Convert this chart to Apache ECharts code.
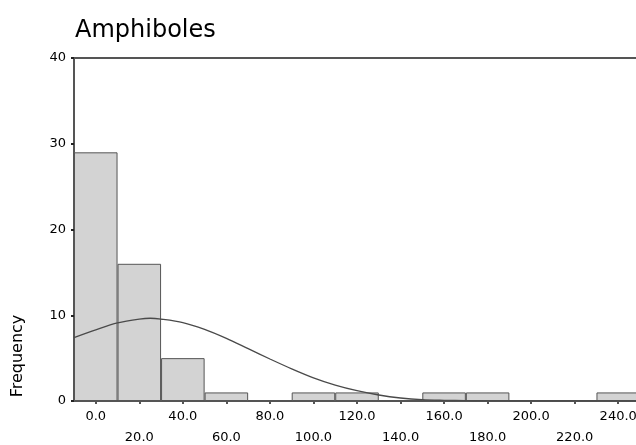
<!DOCTYPE html>
<html>
<head>
<meta charset="utf-8">
<script src="https://cdn.jsdelivr.net/npm/echarts@6/dist/echarts.min.js"></script>
<style>html,body{margin:0;padding:0;background:#fff;}#c{width:636px;height:445px;}</style>
</head>
<body>
<div id="c"></div>
<script>
// Histogram bins (centres) and frequencies
var categories = ['0.0','20.0','40.0','60.0','80.0','100.0','120.0','140.0','160.0','180.0','200.0','220.0','240.0'];
var frequencies = [29, 16, 5, 1, 0, 1, 1, 0, 1, 1, 0, 0, 1];
// Normal curve: x positions and heights
var curveX = [-10, 0, 10, 20, 25, 30, 40, 50, 60, 70, 80, 90, 100, 110, 120, 130, 140, 150, 160, 170, 180, 200, 220, 250];
var curveY = [7.4, 8.3, 9.1, 9.55, 9.65, 9.55, 9.15, 8.35, 7.3, 6.1, 4.9, 3.75, 2.7, 1.85, 1.2, 0.7, 0.35, 0.15, 0.08, 0.04, 0.02, 0.01, 0.005, 0.002];
var yTicks = [0, 10, 20, 30, 40];

var FONT = 'DejaVu Sans';
var chart = echarts.init(document.getElementById('c'), null, {renderer: 'canvas'});
var curveData = curveX.map(function (x, i) { return [x, curveY[i]]; });

chart.setOption({
  animation: false,
  backgroundColor: '#ffffff',
  title: {
    text: 'Amphiboles',
    left: 70, top: 14,
    textStyle: {fontFamily: FONT, fontSize: 24, fontWeight: 'normal', color: '#000', lineHeight: 24}
  },
  grid: {left: 74, top: 58, width: 566, bottom: 44, containLabel: false, outerBoundsMode: 'none'},
  xAxis: [
    {
      type: 'category',
      data: categories,
      position: 'bottom',
      boundaryGap: true,
      axisLine: {show: true, onZero: false, lineStyle: {color: '#555', width: 2}},
      axisTick: {show: true, alignWithLabel: true, length: 3, lineStyle: {color: '#555', width: 2}},
      axisLabel: {
        interval: 0,
        margin: 5,
        color: '#000',
        fontFamily: FONT,
        fontSize: 13,
        lineHeight: 21,
        hideOverlap: false,
        formatter: function (v, i) { return i % 2 === 1 ? '\n' + v : v; }
      },
      splitLine: {show: false}
    },
    {
      type: 'value',
      position: 'top',
      min: -10, max: 250,
      axisLine: {show: true, onZero: false, lineStyle: {color: '#555', width: 2}},
      axisTick: {show: false},
      axisLabel: {show: false},
      splitLine: {show: false}
    }
  ],
  yAxis: {
    type: 'value',
    min: yTicks[0], max: yTicks[yTicks.length - 1], interval: 10,
    axisLine: {show: true, onZero: false, lineStyle: {color: '#555', width: 2}},
    axisTick: {show: true, length: 3, lineStyle: {color: '#222', width: 2}},
    axisLabel: {color: '#000', fontFamily: FONT, fontSize: 13, margin: 8},
    splitLine: {show: false}
  },
  graphic: [{
    type: 'text',
    x: 18, y: 356,
    rotation: Math.PI / 2,
    style: {
      text: 'Frequency',
      fill: '#000',
      font: '16px "DejaVu Sans"',
      textAlign: 'center',
      textVerticalAlign: 'middle'
    }
  }],
  series: [
    {
      type: 'bar',
      xAxisIndex: 0,
      data: frequencies,
      barWidth: '100%',
      barCategoryGap: '0%',
      itemStyle: {color: '#d3d3d3', borderColor: '#555', borderWidth: 1},
      silent: true
    },
    {
      type: 'line',
      xAxisIndex: 1,
      data: curveData,
      smooth: 0.3,
      showSymbol: false,
      lineStyle: {color: '#4a4a4a', width: 1.3},
      silent: true,
      z: 3
    }
  ]
});
</script>
</body>
</html>
